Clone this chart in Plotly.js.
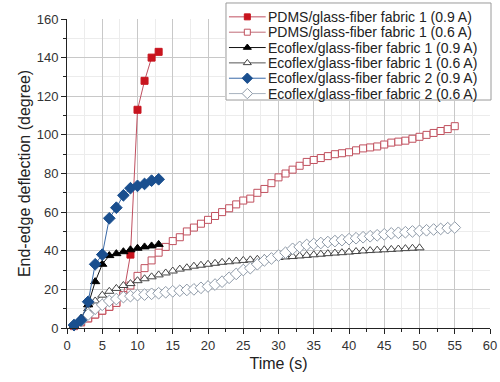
<!DOCTYPE html>
<html>
<head>
<meta charset="utf-8">
<script src="https://cdn.plot.ly/plotly-3.0.1.min.js"></script>
<style>html,body{margin:0;padding:0;background:#fff;}#chart{width:500px;height:382px;}</style>
</head>
<body>
<div id="chart"></div>
<script>
// ---- data ----
const seriesNames = [
  "PDMS/glass-fiber fabric 1 (0.9 A)",
  "PDMS/glass-fiber fabric 1 (0.6 A)",
  "Ecoflex/glass-fiber fabric 1 (0.9 A)",
  "Ecoflex/glass-fiber fabric 1 (0.6 A)",
  "Ecoflex/glass-fiber fabric 2 (0.9 A)",
  "Ecoflex/glass-fiber fabric 2 (0.6 A)"
];
const tPdms09 = [1,2,3,4,5,6,7,8,9,10,11,12,13];
const yPdms09 = [1,3,5,7,9,11,13,17,38,113,128,140,143];

const tPdms06 = [1,2,3,4,5,6,7,8,9,10,11,12,13,14,15,16,17,18,19,20,21,22,23,24,25,26,27,28,29,30,31,32,33,34,35,36,37,38,39,40,41,42,43,44,45,46,47,48,49,50,51,52,53,54,55];
const yPdms06 = [1,3,5,7,9,11,13,17,22,27,31,35,39,42,45,47,50,52,54,56,58,60,62,64,66,67,70,72,75,78,80,82,84,86,87,88,89,90,90.5,91,92,93,93.5,94,95,96,96.5,97,98,99,100,101,102,103,104.5];

const tEco1_09 = [1,2,3,4,5,6,7,8,9,10,11,12,13];
const yEco1_09 = [1.5,5,12,24,33,37.5,38.5,39.5,40.5,41.3,42,42.5,43.3];

const tEco1_06 = [1,2,3,4,5,6,7,8,9,10,11,12,13,14,15,16,17,18,19,20,21,22,23,24,25,26,27,28,29,30,31,32,33,34,35,36,37,38,39,40,41,42,43,44,45,46,47,48,49,50];
const yEco1_06 = [1,4,10,14,17,19,20.5,22,23,24.5,25.5,26.5,27.5,28.5,29.5,30.5,31.2,32,32.5,33,33.5,34,34.3,34.7,35,35.3,35.6,36,36.2,36.5,36.8,37,37.3,37.6,37.9,38.2,38.5,38.8,39,39.3,39.6,39.9,40.1,40.3,40.5,40.7,40.9,41.1,41.3,41.5];

const tEco2_09 = [1,2,3,4,5,6,7,8,9,10,11,12,13];
const yEco2_09 = [1.5,4,13.6,33,38,56.8,62.3,68.7,72.4,73.6,74.6,76.3,77];

const tEco2_06 = [1,2,3,4,5,6,7,8,9,10,11,12,13,14,15,16,17,18,19,20,21,22,23,24,25,26,27,28,29,30,31,32,33,34,35,36,37,38,39,40,41,42,43,44,45,46,47,48,49,50,51,52,53,54,55];
const yEco2_06 = [1.5,3.5,7,10,12,14,15,16,16.5,17,17.3,17.7,18,18.5,19,19.3,19.7,20,20.8,21.5,22.5,24,26,28,30,31,33,35,36,37.5,39,41,42,43,43.5,44,44.5,45,45.5,46,46.5,47,47.5,48,48.5,49,49.3,49.6,50,50.3,50.6,51,51.3,51.7,52];

const xTicks = [0,5,10,15,20,25,30,35,40,45,50,55,60];
const yTicks = [0,20,40,60,80,100,120,140,160];

// ---- styles ----
const FONT = '"Liberation Sans", Arial, sans-serif';
const styles = [
  {symbol:'square',        mfill:'#c8141e', mline:'#c8141e', line:'#c05060', size:7,  lw:1},
  {symbol:'square',        mfill:'#ffffff', mline:'#c0505e', line:'#c06c78', size:7,  lw:1},
  {symbol:'triangle-up',   mfill:'#000000', mline:'#000000', line:'#111111', size:8,  lw:1},
  {symbol:'triangle-up',   mfill:'#ffffff', mline:'#444444', line:'#555555', size:8,  lw:1},
  {symbol:'diamond',       mfill:'#1a4f8f', mline:'#1a4f8f', line:'#3a6aa8', size:9,  lw:1},
  {symbol:'diamond',       mfill:'#ffffff', mline:'#8e9aa8', line:'#a8b2be', size:9,  lw:1}
];
const dataT = [tPdms09, tPdms06, tEco1_09, tEco1_06, tEco2_09, tEco2_06];
const dataY = [yPdms09, yPdms06, yEco1_09, yEco1_06, yEco2_09, yEco2_06];
const drawOrder = [0,1,3,5,2,4];

const traces = [];
drawOrder.forEach(i => {
  const s = styles[i];
  traces.push({
    type:'scatter', mode:'lines+markers', name:seriesNames[i],
    x:dataT[i], y:dataY[i], xaxis:'x', yaxis:'y',
    line:{color:s.line, width:s.lw},
    marker:{symbol:s.symbol, size:s.size, color:s.mfill, line:{color:s.mline, width:1}},
    showlegend:false, cliponaxis:false
  });
});

// ---- custom legend on an overlay subplot (pixel-like coords) ----
const legRows = [14, 29.5, 45, 60.5, 76, 91.5];
const annotations = [];
seriesNames.forEach((nm, i) => {
  const s = styles[i];
  traces.push({
    type:'scatter', mode:'lines', x:[3,40], y:[legRows[i],legRows[i]], xaxis:'x2', yaxis:'y2',
    line:{color:s.line, width:1}, showlegend:false, hoverinfo:'skip'
  });
  traces.push({
    type:'scatter', mode:'markers', x:[21.5], y:[legRows[i]], xaxis:'x2', yaxis:'y2',
    marker:{symbol:s.symbol, size:s.size-1, color:s.mfill, line:{color:s.mline, width:1}},
    showlegend:false, hoverinfo:'skip'
  });
  annotations.push({
    xref:'x2', yref:'y2', x:40, y:legRows[i], xanchor:'left', yanchor:'middle',
    text:nm, showarrow:false, font:{family:FONT, size:14, color:'#222'}
  });
});

const axisCommon = {
  showline:true, linecolor:'#222', linewidth:1,
  ticks:'outside', ticklen:5, tickcolor:'#222', tickwidth:1,
  showgrid:true, gridcolor:'#c8c8c8', gridwidth:1,
  zeroline:false, tickfont:{family:FONT, size:13, color:'#333'}
};

const layout = {
  width:500, height:382,
  margin:{l:67, r:8, t:2, b:54},
  paper_bgcolor:'#ffffff', plot_bgcolor:'#ffffff',
  font:{family:FONT},
  showlegend:false,
  xaxis:Object.assign({}, axisCommon, {
    domain:[0, 0.99529], range:[0,60], tickmode:'array', tickvals:xTicks, ticktext:xTicks.map(String),
    minor:{dtick:2.5, tick0:0, ticks:'outside', ticklen:3, tickcolor:'#222', showgrid:true, gridcolor:'#ececec'},
    title:{text:'Time (s)', font:{family:FONT, size:16, color:'#222'}, standoff:6}
  }),
  yaxis:Object.assign({}, axisCommon, {
    domain:[0, 0.94785], range:[0,160], tickmode:'array', tickvals:yTicks, ticktext:yTicks.map(String),
    minor:{dtick:10, tick0:0, ticks:'outside', ticklen:3, tickcolor:'#222', showgrid:true, gridcolor:'#ececec'},
    title:{text:'End-edge deflection (degree)', font:{family:FONT, size:16, color:'#222'}, standoff:2}
  }),
  xaxis2:{domain:[0.37176, 1], range:[-1,268], visible:false, fixedrange:true, anchor:'y2'},
  yaxis2:{domain:[0.6963, 1], range:[99,-1], visible:false, fixedrange:true, anchor:'x2'},
  shapes:[{type:'rect', xref:'x2', yref:'y2', x0:0, x1:267, y0:0, y1:98, fillcolor:'#ffffff', line:{color:'#9a9a9a', width:1}, layer:'below'}],
  annotations:annotations
};

Plotly.newPlot('chart', traces, layout, {staticPlot:true, displayModeBar:false});
</script>
</body>
</html>
